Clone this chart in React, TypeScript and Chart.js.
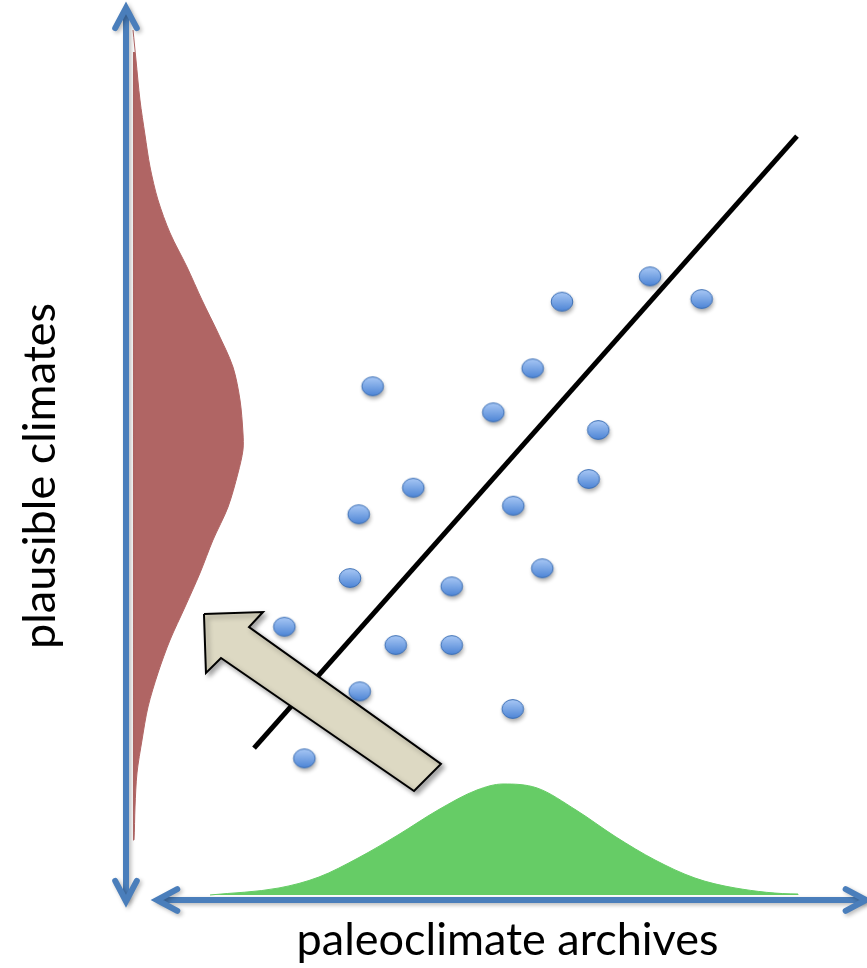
import React, { useEffect, useRef } from "react";
import { Chart, registerables } from "chart.js";

// shadow helper for the big arrow (registered first so it runs before the filler)
const arrowShadowPlugin = {
  id: "arrowShadow",
  beforeDatasetDraw(chart: any, args: any) {
    if (args.index !== 0) return;
    const ctx = chart.ctx;
    ctx.save();
    ctx.shadowColor = "rgba(0,0,0,0.35)";
    ctx.shadowBlur = 5;
    ctx.shadowOffsetX = 3;
    ctx.shadowOffsetY = 3;
  },
  afterDatasetDraw(chart: any, args: any) {
    if (args.index !== 0) return;
    chart.ctx.restore();
  },
};
Chart.register(arrowShadowPlugin);
Chart.register(...registerables);

// ---- text ----
const xAxisTitle = "paleoclimate archives";
const yAxisTitle = "plausible climates";

// ---- data (x: archive value, y: climate value) ----
const dotX = [32.33, 57.14, 68.68, 75.45, 53.3, 48.14, 61.9, 37.65, 30.5, 50.76, 60.64, 29.36, 42.69, 54.56, 20.75, 35.35, 42.69, 30.63, 50.68, 23.37];
const dotY = [60.46, 70.44, 73.43, 70.75, 62.58, 57.39, 55.31, 48.5, 45.37, 46.38, 49.53, 37.85, 36.87, 39.0, 32.11, 29.95, 29.95, 24.49, 22.41, 16.59];

const fitLineX = [16.78, 87.94];
const fitLineY = [17.92, 90.09];

// climate density drawn along the vertical axis (x = density width)
const climateDensityX = [0.92, 1.31, 1.83, 2.49, 3.15, 4.19, 5.77, 7.99, 9.96, 12.06, 14.02, 14.94, 15.33, 15.33, 14.68, 13.37, 11.4, 9.7, 7.73, 5.77, 4.19, 2.88, 2.1, 1.44, 1.18, 1.05, 0.92];
const climateDensityY = [102.59, 99.06, 94.34, 90.21, 86.44, 82.55, 78.66, 74.65, 70.75, 66.86, 62.85, 58.96, 55.07, 53.07, 50.35, 46.34, 42.45, 38.56, 34.55, 30.66, 26.77, 22.76, 18.87, 14.98, 10.97, 7.08, 7.08];

// archive density drawn along the horizontal axis
const archiveDensityX = [11.01, 20.05, 25.29, 30.41, 35.65, 40.89, 46.0, 49.41, 53.87, 58.98, 64.22, 69.33, 74.57, 79.82, 88.07, 88.07];
const archiveDensityY = [0.59, 1.42, 2.71, 4.95, 7.67, 10.61, 12.97, 13.68, 13.21, 10.61, 7.43, 4.72, 2.59, 1.42, 0.71, 0.59];

// big arrow outline
const arrowX = [10.22, 17.96, 16.12, 41.28, 37.75, 12.45, 10.48, 10.22];
const arrowY = [33.73, 33.96, 32.19, 16.04, 12.85, 28.54, 26.77, 33.73];

// axis arrow extents
const axisXExtent = [4.06, 96.98];
const axisYExtent = [-0.15, 105.2];

const zip = (xs: number[], ys: number[]) => xs.map((x, i) => ({ x, y: ys[i] }));

function makeDot(): HTMLCanvasElement {
  const c = document.createElement("canvas");
  c.width = 34;
  c.height = 34;
  const g = c.getContext("2d")!;
  g.save();
  g.shadowColor = "rgba(0,0,0,0.35)";
  g.shadowBlur = 4;
  g.shadowOffsetY = 3;
  g.shadowOffsetX = 1;
  g.beginPath();
  g.ellipse(17, 16, 10.8, 9.4, 0, 0, Math.PI * 2);
  const grad = g.createLinearGradient(0, 7, 0, 25);
  grad.addColorStop(0, "#a6c6f4");
  grad.addColorStop(1, "#4f86d6");
  g.fillStyle = grad;
  g.fill();
  g.restore();
  g.beginPath();
  g.ellipse(17, 16, 10.8, 9.4, 0, 0, Math.PI * 2);
  g.lineWidth = 1;
  g.strokeStyle = "#3c6fb5";
  g.stroke();
  return c;
}

const axesPlugin = {
  id: "axesArrows",
  afterDatasetsDraw(chart: any) {
    const { ctx, scales } = chart;
    const xs = scales.x;
    const ys = scales.y;
    const x0 = xs.getPixelForValue(0);
    const y0 = ys.getPixelForValue(0);
    const vTop = ys.getPixelForValue(axisYExtent[1]);
    const vBot = ys.getPixelForValue(axisYExtent[0]);
    const hL = xs.getPixelForValue(axisXExtent[0]);
    const hR = xs.getPixelForValue(axisXExtent[1]);
    const L = 23;
    const a = (28 * Math.PI) / 180;
    const head = (tx: number, ty: number, ang: number) => {
      ctx.beginPath();
      ctx.moveTo(tx + L * Math.cos(ang + a), ty + L * Math.sin(ang + a));
      ctx.lineTo(tx, ty);
      ctx.lineTo(tx + L * Math.cos(ang - a), ty + L * Math.sin(ang - a));
      ctx.stroke();
    };
    ctx.save();
    ctx.strokeStyle = "#4a7ebb";
    ctx.lineWidth = 6;
    ctx.lineCap = "round";
    ctx.lineJoin = "miter";
    ctx.shadowColor = "rgba(0,0,0,0.28)";
    ctx.shadowBlur = 4;
    ctx.shadowOffsetX = 2;
    ctx.shadowOffsetY = 2;
    ctx.beginPath();
    ctx.moveTo(x0, vTop + 3);
    ctx.lineTo(x0, vBot - 3);
    ctx.stroke();
    head(x0, vTop, Math.PI / 2);
    head(x0, vBot, -Math.PI / 2);
    ctx.beginPath();
    ctx.moveTo(hL + 3, y0);
    ctx.lineTo(hR - 3, y0);
    ctx.stroke();
    head(hL, y0, 0);
    head(hR, y0, Math.PI);
    ctx.restore();
  },
};

// the drawing surface runs slightly past the visible frame on the right
const CANVAS_W = 889;
const CANVAS_H = 968;

export default function App() {
  const ref = useRef<HTMLCanvasElement | null>(null);
  useEffect(() => {
    if (!ref.current) return;
    const dot = makeDot();
    const titleFont = { family: "Lato", size: 45, lineHeight: 1.2 };
    const chart = new Chart(ref.current, {
      type: "scatter",
      data: {
        datasets: [
          {
            label: "arrow",
            data: zip(arrowX, arrowY),
            showLine: true,
            fill: "shape",
            backgroundColor: "#ddd9c3",
            borderColor: "#000000",
            borderWidth: 2,
            borderJoinStyle: "miter",
            pointRadius: 0,
            tension: 0,
            clip: false,
          } as any,
          {
            label: "archives",
            data: zip(dotX, dotY),
            pointStyle: dot,
            pointRadius: 10,
            showLine: false,
            clip: false,
          } as any,
          {
            label: "fit",
            data: zip(fitLineX, fitLineY),
            showLine: true,
            borderColor: "#000000",
            borderWidth: 5,
            borderCapStyle: "butt",
            pointRadius: 0,
            clip: false,
          } as any,
          {
            label: "archive density",
            data: zip(archiveDensityX, archiveDensityY),
            showLine: true,
            fill: "shape",
            backgroundColor: "#66cc66",
            borderColor: "#66cc66",
            borderWidth: 1,
            cubicInterpolationMode: "monotone",
            pointRadius: 0,
            clip: false,
          } as any,
          {
            label: "climate density",
            data: zip(climateDensityX, climateDensityY),
            showLine: true,
            fill: "shape",
            backgroundColor: "#b06564",
            borderColor: "#b06564",
            borderWidth: 1,
            tension: 0.3,
            pointRadius: 0,
            clip: false,
          } as any,
        ],
      },
      options: {
        responsive: false,
        animation: false,
        devicePixelRatio: 1,
        layout: { autoPadding: false, padding: { top: 52, right: 0, bottom: 0, left: 0 } },
        plugins: { legend: { display: false }, tooltip: { enabled: false } },
        scales: {
          x: {
            type: "linear",
            min: 0,
            max: 100,
            grid: { display: false, drawTicks: false },
            border: { display: false },
            ticks: { display: false },
            title: {
              display: true,
              text: xAxisTitle,
              color: "#000000",
              font: titleFont,
              padding: { top: 13.4, bottom: 0.6 },
            },
          },
          y: {
            type: "linear",
            min: 0,
            max: 100,
            grid: { display: false, drawTicks: false },
            border: { display: false },
            ticks: { display: false },
            title: {
              display: true,
              text: yAxisTitle,
              color: "#000000",
              font: titleFont,
              padding: { top: 13.8, bottom: 58.2 },
            },
          },
        },
      } as any,
      plugins: [axesPlugin],
    });
    return () => chart.destroy();
  }, []);
  return (
    <div
      style={{
        position: "absolute",
        left: 0,
        top: 0,
        width: 867,
        height: 968,
        overflow: "hidden",
        background: "#fff",
      }}
    >
      <canvas
        ref={ref}
        width={CANVAS_W}
        height={CANVAS_H}
        style={{ display: "block", width: CANVAS_W, height: CANVAS_H }}
      />
    </div>
  );
}
